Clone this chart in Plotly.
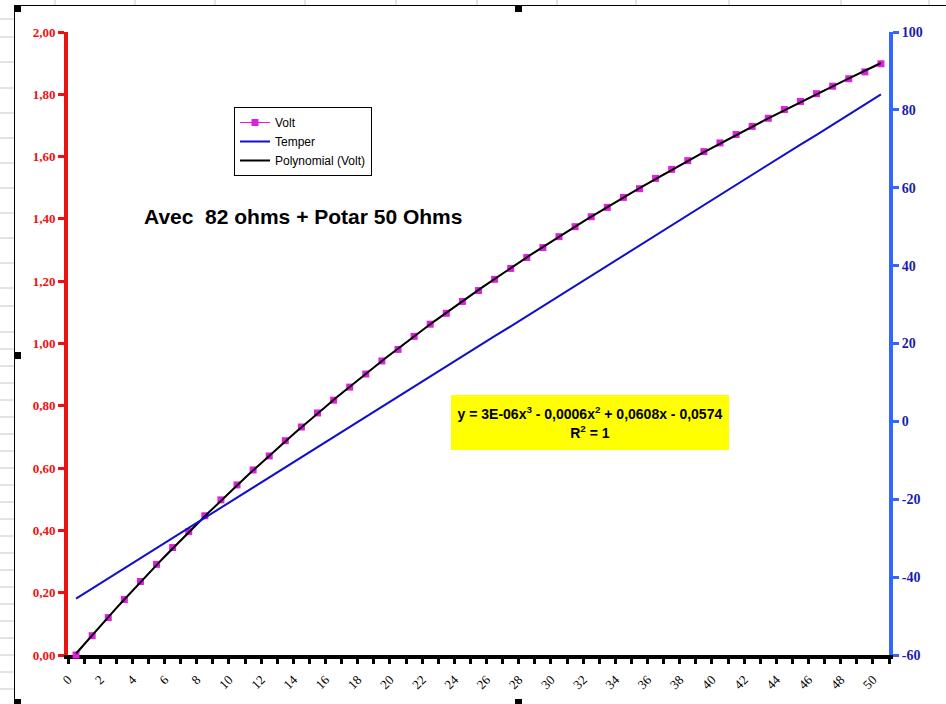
import numpy as np
import plotly.graph_objects as go

# ---- data -----------------------------------------------------------------
step = list(range(51))

volt = [0.000, 0.062, 0.120, 0.178, 0.236, 0.291, 0.345, 0.396, 0.447, 0.498,
        0.546, 0.594, 0.639, 0.688, 0.732, 0.777, 0.818, 0.860, 0.902, 0.944,
        0.981, 1.023, 1.062, 1.097, 1.135, 1.170, 1.206, 1.241, 1.276, 1.308,
        1.343, 1.375, 1.407, 1.437, 1.469, 1.497, 1.530, 1.559, 1.587, 1.616,
        1.644, 1.671, 1.697, 1.723, 1.751, 1.777, 1.802, 1.826, 1.850, 1.872,
        1.898]

temper = [-45.5, -42.9, -40.3, -37.7, -35.1, -32.6, -30.0, -27.4, -24.8, -22.2,
          -19.6, -17.0, -14.4, -11.8, -9.2, -6.6, -4.1, -1.5, 1.1, 3.7,
          6.3, 8.9, 11.5, 14.1, 16.7, 19.3, 21.9, 24.4, 27.0, 29.6,
          32.2, 34.8, 37.4, 40.0, 42.6, 45.2, 47.8, 50.3, 52.9, 55.5,
          58.1, 60.7, 63.3, 65.9, 68.5, 71.1, 73.6, 76.2, 78.8, 81.4,
          84.0]

x_tick_vals = list(range(0, 51, 2))
x_tick_labels = [str(v) for v in x_tick_vals]

volt_tick_vals = [0.0, 0.2, 0.4, 0.6, 0.8, 1.0, 1.2, 1.4, 1.6, 1.8, 2.0]
volt_tick_labels = ["0,00", "0,20", "0,40", "0,60", "0,80", "1,00",
                    "1,20", "1,40", "1,60", "1,80", "2,00"]

temper_tick_vals = [-60, -40, -20, 0, 20, 40, 60, 80, 100]
temper_tick_labels = ["-60", "-40", "-20", "0", "20", "40", "60", "80", "100"]

title_text = "Avec\u00a0 82 ohms + Potar 50 Ohms"
equation_text = ("y = 3E-06x<sup>3</sup> - 0,0006x<sup>2</sup> + 0,0608x - 0,0574"
                 "<br>R<sup>2</sup> = 1")

# ---- cubic trendline fitted on the Volt series ---------------------------------
coeffs = np.polyfit(step, volt, 3)
trend_x = np.linspace(0, 50, 201)
trend_y = np.polyval(coeffs, trend_x)

# ---- page geometry ------------------------------------------------------------
W, H = 946, 704
L, R, T, B = 68, 889, 32, 655


def px2x(px):
    return (px - L) / (R - L)


def py2y(py):
    return (B - py) / (B - T)


SERIF = "Liberation Serif"
SANS = "Liberation Sans"
RED = "#ee1111"
AXIS_BLUE = "#3366ff"
LABEL_BLUE = "#1c1ca8"
MAGENTA = "#e020e0"
TEMPER_BLUE = "#1010c8"

cat_bounds = [k - 0.5 for k in range(52)]

fig = go.Figure()
fig.add_trace(go.Scatter(
    x=step, y=volt, name="Volt", mode="lines+markers",
    line=dict(color=MAGENTA, width=1),
    marker=dict(symbol="square", size=7, color=MAGENTA),
    cliponaxis=False, yaxis="y"))
fig.add_trace(go.Scatter(
    x=step, y=temper, name="Temper", mode="lines",
    line=dict(color=TEMPER_BLUE, width=2), yaxis="y2"))
fig.add_trace(go.Scatter(
    x=trend_x, y=trend_y, name="Polynomial (Volt)", mode="lines",
    line=dict(color="black", width=2), yaxis="y"))

common_x = dict(range=[-0.5, 50.5], showgrid=False, zeroline=False, fixedrange=True)

fig.update_layout(
    width=W, height=H, autosize=False,
    margin=dict(l=L, r=W - R, t=T, b=H - B, pad=0),
    paper_bgcolor="white", plot_bgcolor="white",
    xaxis=dict(
        **common_x, tickmode="array", tickvals=x_tick_vals, ticktext=x_tick_labels,
        ticks="", tickangle=-45, ticklabelstandoff=8, ticklabelshift=-8,
        tickfont=dict(family=SERIF, size=13, color="black"),
        showline=True, linecolor="black", linewidth=4, layer="below traces",
        minor=dict(tickmode="array", tickvals=cat_bounds, ticks="outside",
                   ticklen=5, tickwidth=3, tickcolor="black", showgrid=False)),
    xaxis2=dict(
        **common_x, overlaying="x", anchor="y", side="bottom",
        showticklabels=False, ticks="", showline=False,
        minor=dict(tickmode="array", tickvals=cat_bounds, ticks="inside",
                   ticklen=5, tickwidth=3, tickcolor="black", showgrid=False)),
    xaxis3=dict(
        **common_x, overlaying="x", anchor="y", side="top",
        showticklabels=False, ticks="", showline=True,
        linecolor="black", linewidth=1),
    yaxis=dict(
        range=[0, 2], tickmode="array", tickvals=volt_tick_vals,
        ticktext=volt_tick_labels, ticks="outside", ticklen=6, tickwidth=3,
        tickcolor=RED, showline=True, linecolor=RED, linewidth=4,
        tickfont=dict(family=SERIF, size=13, color=RED, weight="bold"),
        showgrid=False, zeroline=False, fixedrange=True, layer="below traces"),
    yaxis3=dict(
        range=[0, 2], overlaying="y", anchor="x", side="left",
        tickmode="array", tickvals=volt_tick_vals, ticks="inside", ticklen=5,
        tickwidth=3, tickcolor=RED, showticklabels=False, showline=False,
        showgrid=False, zeroline=False, fixedrange=True),
    yaxis2=dict(
        range=[-60, 100], overlaying="y", anchor="x", side="right",
        tickmode="array", tickvals=temper_tick_vals, ticktext=temper_tick_labels,
        ticks="outside", ticklen=6, tickwidth=3, tickcolor=AXIS_BLUE,
        showline=True, linecolor=AXIS_BLUE, linewidth=4,
        tickfont=dict(family=SERIF, size=14, color=LABEL_BLUE, weight="bold"),
        showgrid=False, zeroline=False, fixedrange=True),
    yaxis4=dict(
        range=[-60, 100], overlaying="y", anchor="x", side="right",
        tickmode="array", tickvals=temper_tick_vals, ticks="inside", ticklen=5,
        tickwidth=3, tickcolor=AXIS_BLUE, showticklabels=False, showline=False,
        showgrid=False, zeroline=False, fixedrange=True),
    showlegend=True,
    legend=dict(
        x=px2x(234), y=py2y(107), xanchor="left", yanchor="top",
        bgcolor="white", bordercolor="black", borderwidth=1,
        font=dict(family=SANS, size=12, color="black"),
        itemwidth=30, tracegroupgap=0),
)

fig.add_annotation(
    text=title_text, xref="paper", yref="paper",
    x=px2x(302.5), y=py2y(216), xanchor="center", yanchor="middle",
    showarrow=False, font=dict(family=SANS, size=21, color="black", weight="bold"))

fig.add_annotation(
    text=equation_text, xref="paper", yref="paper",
    x=px2x(590), y=py2y(422.5), xanchor="center", yanchor="middle",
    showarrow=False, align="center", bgcolor="#ffff00",
    width=278, height=55, borderpad=0, borderwidth=0,
    font=dict(family=SANS, size=14, color="black", weight="bold"))

# ---- worksheet around the chart: cell grid, chart frame, selection handles -----
shapes = []
GRID = "#c8c8c8"
row_lines = [19, 37, 62, 88, 113, 138, 163, 188, 213, 238, 263, 288, 306, 332]
row_lines += list(range(349, 704, 17))
for ry in row_lines:
    shapes.append(dict(type="line", xref="paper", yref="paper",
                       x0=px2x(0), x1=px2x(14), y0=py2y(ry), y1=py2y(ry),
                       line=dict(color=GRID, width=1), layer="below"))
col_lines = [55, 135, 215, 305, 396, 477, 557, 636, 729, 841, 929]
for cx in col_lines:
    shapes.append(dict(type="line", xref="paper", yref="paper",
                       x0=px2x(cx), x1=px2x(cx), y0=py2y(0), y1=py2y(5),
                       line=dict(color=GRID, width=1), layer="below"))
# chart frame
shapes.append(dict(type="line", xref="paper", yref="paper",
                   x0=px2x(14.5), x1=px2x(14.5), y0=py2y(5.5), y1=py2y(704),
                   line=dict(color="black", width=1)))
shapes.append(dict(type="line", xref="paper", yref="paper",
                   x0=px2x(14.5), x1=px2x(946), y0=py2y(5.5), y1=py2y(5.5),
                   line=dict(color="black", width=1)))
# selection handles
for hx, hy in [(14, 5), (515, 5), (14, 352), (14, 699), (515, 699)]:
    shapes.append(dict(type="rect", xref="paper", yref="paper",
                       x0=px2x(hx), x1=px2x(hx + 7), y0=py2y(hy), y1=py2y(hy + 7),
                       fillcolor="black", line=dict(width=0)))
fig.update_layout(shapes=shapes)

fig.write_html("out.html", config={"displayModeBar": False})
